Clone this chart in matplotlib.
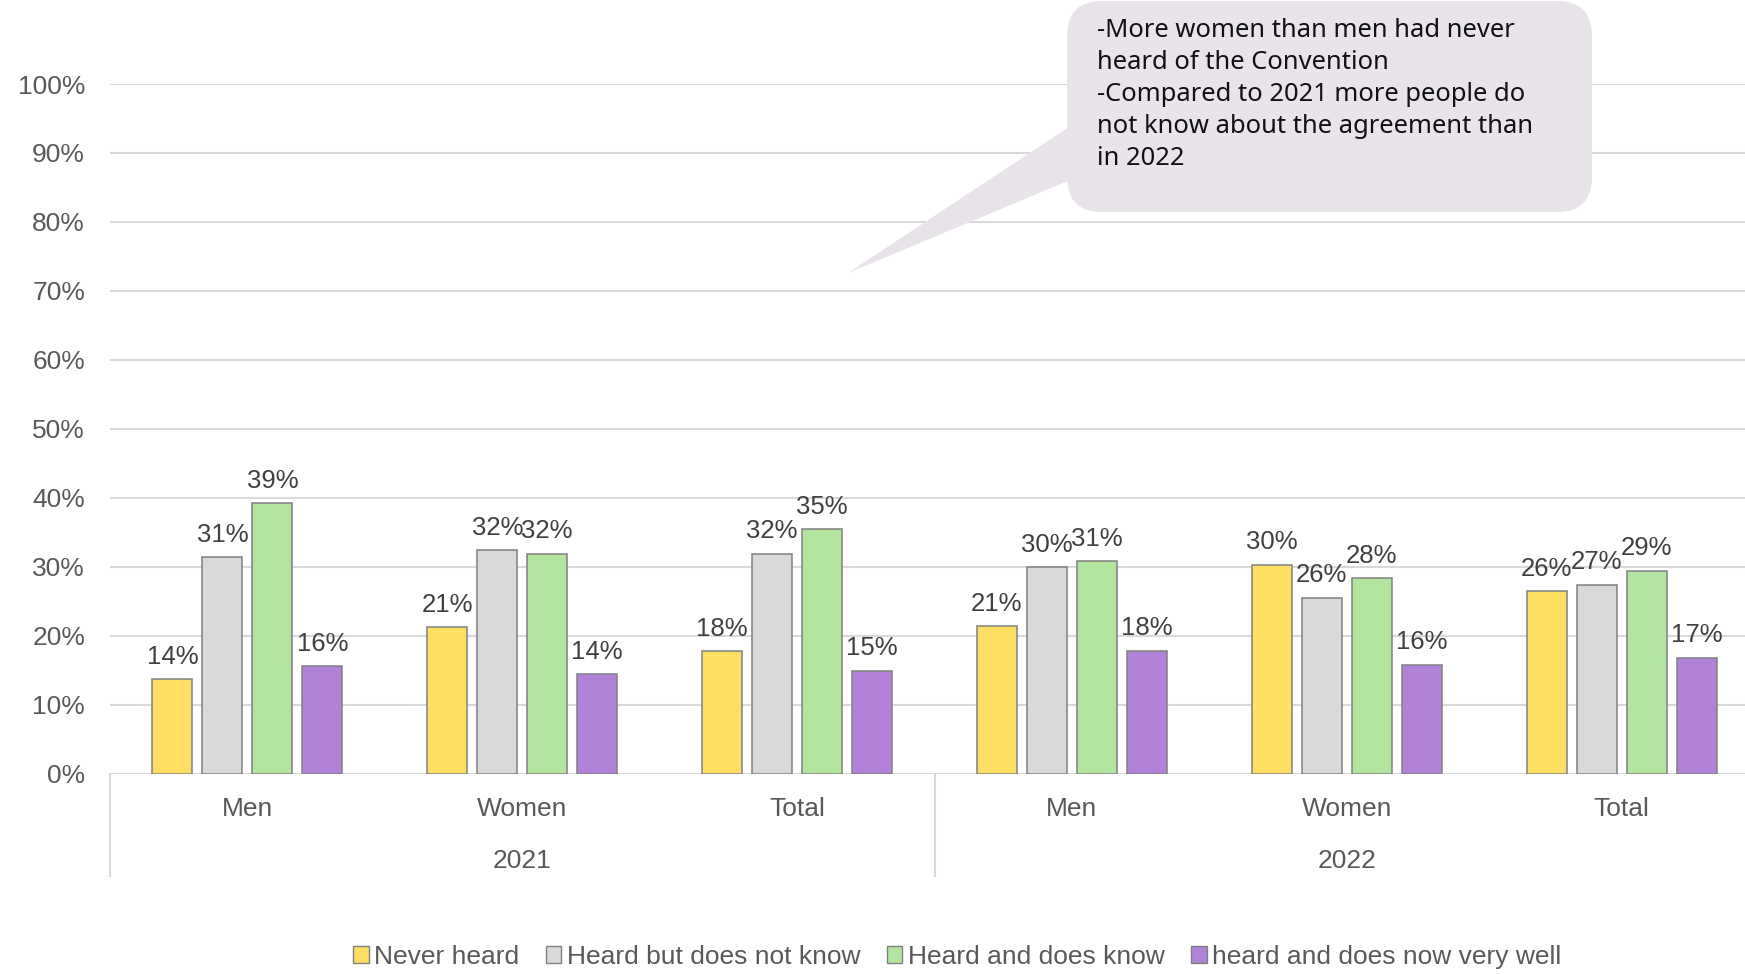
import numpy as np
import matplotlib.pyplot as plt
from matplotlib.patches import FancyBboxPatch, Polygon, Patch
from matplotlib.lines import Line2D
import matplotlib.transforms as mtransforms

plt.rcParams['font.family'] = ['Liberation Sans', 'DejaVu Sans']

# data
groups = ['Men', 'Women', 'Total', 'Men', 'Women', 'Total']
years = ['2021', '2022']
series = ['Never heard', 'Heard but does not know', 'Heard and does know',
          'heard and does now very well']
never_heard = [13.7, 21.2, 17.7, 21.4, 30.3, 26.4]
heard_not_know = [31.4, 32.4, 31.9, 29.9, 25.5, 27.4]
heard_know = [39.2, 31.9, 35.4, 30.8, 28.3, 29.4]
know_well = [15.6, 14.4, 14.9, 17.8, 15.8, 16.8]
callout = ("-More women than men had never\nheard of the Convention\n"
           "-Compared to 2021 more people do\nnot know about the agreement than\nin 2022")

colors = ['#FFDF63', '#D9D9D9', '#B2E6A0', '#B282D9']
values = [never_heard, heard_not_know, heard_know, know_well]

W, H = 1745, 974
fig = plt.figure(figsize=(W / 100, H / 100), dpi=100)
ax = fig.add_axes([110 / W, (H - 773.5) / H, 1649 / W, 689.5 / H])

x = np.arange(len(groups))
pitch = 50 / 275
width = 40 / 275
for i, (vals, col, name) in enumerate(zip(values, colors, series)):
    pos = x + (i - 1.5) * pitch
    ax.bar(pos, vals, width=width, color=col, edgecolor='#808080',
           linewidth=1.1, zorder=3, label=name)
    for px, v in zip(pos, vals):
        ax.annotate(f'{round(v):.0f}%', (px, v), xytext=(0, 7.5),
                    textcoords='offset points', ha='center', va='bottom',
                    fontsize=18.5, color='#404040')

ax.set_xlim(-0.5, len(groups) - 0.5)
ax.set_ylim(0, 100)
ax.set_yticks(np.arange(0, 101, 10))
ax.set_yticklabels([f'{t}%' for t in range(0, 101, 10)])
ax.tick_params(axis='y', length=0, pad=18, labelsize=19, labelcolor='#595959')
ax.set_xticks([])
ax.grid(axis='y', color='#D9D9D9', linewidth=1.5, zorder=0)
for s in ax.spines.values():
    s.set_visible(False)

# category and year labels below the axis
trans = mtransforms.blended_transform_factory(ax.transData, ax.transAxes)
cat_y = -35 / 689.5
year_y = -87 / 689.5
for xi, g in zip(x, groups):
    ax.text(xi, cat_y, g, transform=trans, ha='center', va='center',
            fontsize=19, color='#595959')
for k, yr in enumerate(years):
    ax.text(1 + 3 * k, year_y, yr, transform=trans, ha='center', va='center',
            fontsize=19, color='#595959')
for xs in [-0.5, 2.5, 5.5]:
    ax.add_line(Line2D([xs, xs], [0, -102 / 689.5], transform=trans,
                       color='#D9D9D9', linewidth=1.5, clip_on=False))

# legend
handles = [Patch(facecolor=c, edgecolor='#808080', linewidth=1.0) for c in colors]
fig.legend(handles, series, loc='center', bbox_to_anchor=(957 / W, (H - 957) / H),
           ncol=4, frameon=False, fontsize=19, labelcolor='#595959',
           handlelength=0.6, handleheight=0.6, handletextpad=0.2,
           columnspacing=1.0)

# callout bubble
inch = fig.dpi_scale_trans
fill = '#E8E4EA'
box = FancyBboxPatch((10.67, (H - 212) / 100), 5.25, 2.11,
                     boxstyle='round,pad=0,rounding_size=0.35',
                     transform=inch, facecolor=fill, edgecolor='none', zorder=5)
fig.patches.append(box)
tail = Polygon([(8.48, (H - 273) / 100), (10.75, (H - 123) / 100),
                (10.75, (H - 178) / 100)], closed=True, transform=inch,
               facecolor=fill, edgecolor='none', zorder=5)
fig.patches.append(tail)
fig.text(1097 / W, (H - 18) / H, callout, ha='left', va='top',
         fontsize=18.4, color='#111111', linespacing=1.37,
         family=['Noto Sans', 'DejaVu Sans'], zorder=6)

fig.savefig('out.png', dpi=100)
